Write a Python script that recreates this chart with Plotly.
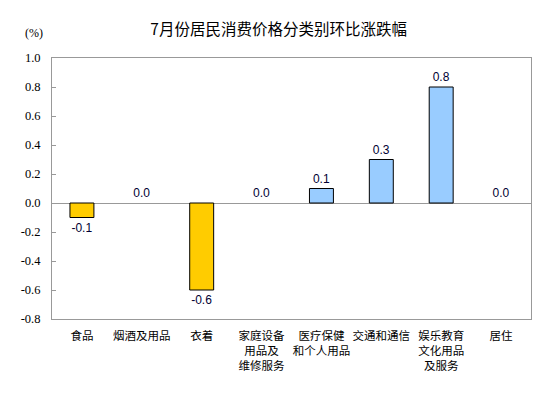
import plotly.graph_objects as go

categories = ["食品", "烟酒及用品", "衣着", "家庭设备<br>用品及<br>维修服务",
              "医疗保健<br>和个人用品", "交通和通信", "娱乐教育<br>文化用品<br>及服务", "居住"]
values = [-0.1, 0.0, -0.6, 0.0, 0.1, 0.3, 0.8, 0.0]
y_ticks = [1.0, 0.8, 0.6, 0.4, 0.2, 0.0, -0.2, -0.4, -0.6, -0.8]
title_text = "7月份居民消费价格分类别环比涨跌幅"
unit_text = "(%)"

colors = ["#FFCC00" if v < 0 else "#99CCFF" for v in values]
line_widths = [0 if v == 0 else 1 for v in values]
xs = list(range(len(categories)))

fig = go.Figure()
fig.add_trace(go.Bar(
    x=xs, y=values,
    width=0.4,
    marker=dict(color=colors, line=dict(color="#000000", width=line_widths)),
    text=[f"{v:.1f}" for v in values],
    textposition="outside",
    cliponaxis=False,
    textfont=dict(family="Liberation Sans", size=12, color="#000033"),
    hoverinfo="skip",
))

fig.update_layout(
    width=554, height=398,
    margin=dict(l=52, r=23, t=58, b=79, autoexpand=False),
    paper_bgcolor="white", plot_bgcolor="white",
    showlegend=False,
    bargap=0.6,
    title=dict(text=title_text, x=0.503, xanchor="center", y=0.925, yanchor="middle",
               font=dict(family="Noto Sans CJK SC", size=15.5, color="#000000")),
    xaxis=dict(
        range=[-0.5, len(categories) - 0.5],
        tickmode="array", tickvals=xs, ticktext=categories,
        tickangle=0, automargin=False,
        showline=True, linecolor="#999999", linewidth=1, mirror=True,
        ticks="outside", ticklen=6, tickcolor="rgba(0,0,0,0)",
        showgrid=False, zeroline=False,
        tickfont=dict(family="Noto Sans CJK SC", size=11.5, color="#000000"),
        fixedrange=True,
    ),
    yaxis=dict(
        range=[-0.8, 1.0], automargin=False,
        tickmode="array", tickvals=y_ticks, ticktext=[f"{t:.1f}" for t in y_ticks],
        showline=True, linecolor="#999999", linewidth=1, mirror=True,
        ticks="inside", ticklen=4, tickcolor="#999999",
        ticklabelstandoff=8,
        showgrid=False, zeroline=True, zerolinecolor="#999999", zerolinewidth=1,
        tickfont=dict(family="Liberation Serif", size=12.5, color="#000000"),
        fixedrange=True,
    ),
    annotations=[dict(text=unit_text, xref="paper", yref="paper", x=-0.0376, y=1.096,
                      xanchor="center", yanchor="middle", showarrow=False,
                      font=dict(family="Liberation Serif", size=12, color="#000000"))],
)

fig.write_html("out.html", config={"displayModeBar": False},
               post_script="document.body.style.margin='0';")
